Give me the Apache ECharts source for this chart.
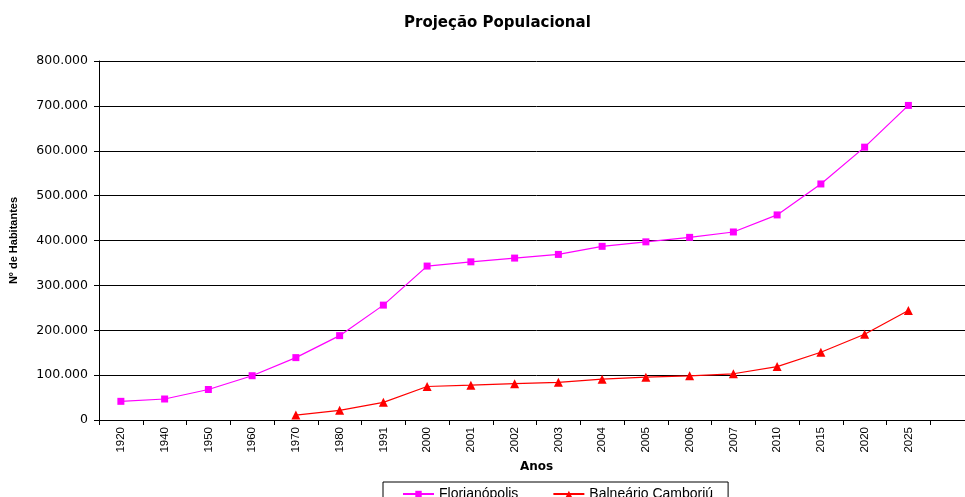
<!DOCTYPE html>
<html>
<head>
<meta charset="utf-8">
<script src="https://cdn.jsdelivr.net/npm/echarts@6/dist/echarts.min.js"></script>
<style>
html,body{margin:0;padding:0;background:#fff;overflow:hidden;}
#wrap{width:965px;height:497px;overflow:hidden;}
#chart{width:980px;height:497px;}
</style>
</head>
<body>
<div id="wrap"><div id="chart"></div></div>
<script>
var categories = ['1920','1940','1950','1960','1970','1980','1991','2000','2001','2002','2003','2004','2005','2006','2007','2010','2015','2020','2025',''];
var florianopolis = [41600, 46800, 68000, 98700, 139000, 188000, 256000, 343000, 352500, 360800, 369000, 387000, 397000, 407000, 419000, 457000, 526000, 608000, 701000];
var balneario = [null, null, null, null, 11000, 21600, 39400, 74600, 77700, 81000, 84000, 91000, 95500, 98400, 103000, 119000, 151000, 191000, 244000];
var yTicks = [0, 100000, 200000, 300000, 400000, 500000, 600000, 700000, 800000];

function fmt(v){
  if (v === 0) return '0';
  var s = String(Math.round(v));
  return s.replace(/\B(?=(\d{3})+(?!\d))/g, '.');
}

var chart = echarts.init(document.getElementById('chart'), null, {renderer:'canvas', width: 980, height: 497});
chart.setOption({
  animation: false,
  backgroundColor: '#fff',
  title: {
    text: 'Projeção Populacional',
    left: 399,
    top: 11,
    textStyle: {fontFamily: 'DejaVu Sans', fontWeight: 'bold', fontSize: 15, color: '#000'}
  },
  legend: {
    left: 383,
    top: 482,
    padding: [5, 15, 8, 19],
    itemGap: 34,
    itemWidth: 31,
    itemHeight: 8,
    borderColor: '#000',
    borderWidth: 1,
    textStyle: {fontFamily: 'Liberation Sans', fontSize: 14, color: '#000'},
    data: ['Florianópolis', 'Balneário Camboriú']
  },
  grid: {left: 97, top: 61, width: 877, height: 359, containLabel: false},
  xAxis: {
    type: 'category',
    data: categories,
    boundaryGap: true,
    name: 'Anos',
    nameLocation: 'middle',
    nameGap: 39,
    nameTextStyle: {fontFamily: 'DejaVu Sans', fontWeight: 'bold', fontSize: 12, color: '#000'},
    axisLine: {lineStyle: {color: '#000', width: 1}},
    axisTick: {show: true, length: 5, interval: 0, alignWithLabel: false, lineStyle: {color: '#000'}},
    axisLabel: {interval: 0, rotate: 90, margin: 7, fontFamily: 'Liberation Sans', fontSize: 11.5, color: '#000'},
    splitLine: {show: false}
  },
  yAxis: {
    type: 'value',
    min: yTicks[0],
    max: yTicks[yTicks.length - 1],
    interval: yTicks[1] - yTicks[0],
    name: 'Nº de Habitantes',
    nameLocation: 'middle',
    nameGap: 80,
    nameRotate: 90,
    nameTextStyle: {fontFamily: 'Liberation Sans', fontWeight: 'bold', fontSize: 11, color: '#000'},
    axisLine: {show: true, lineStyle: {color: '#000', width: 1}},
    axisTick: {show: true, length: 5, lineStyle: {color: '#000'}},
    axisLabel: {margin: 11, fontFamily: 'DejaVu Sans', fontSize: 12.5, color: '#000', formatter: fmt},
    splitLine: {show: true, lineStyle: {color: '#000', width: 1}}
  },
  series: [
    {
      name: 'Florianópolis',
      type: 'line',
      data: florianopolis,
      symbol: 'rect',
      symbolSize: 7,
      showAllSymbol: true,
      itemStyle: {color: '#FF00FF'},
      lineStyle: {color: '#FF00FF', width: 1.2}
    },
    {
      name: 'Balneário Camboriú',
      type: 'line',
      data: balneario,
      symbol: 'triangle',
      symbolSize: 9,
      showAllSymbol: true,
      connectNulls: false,
      itemStyle: {color: '#FF0000'},
      lineStyle: {color: '#FF0000', width: 1.2}
    }
  ]
});
</script>
</body>
</html>
